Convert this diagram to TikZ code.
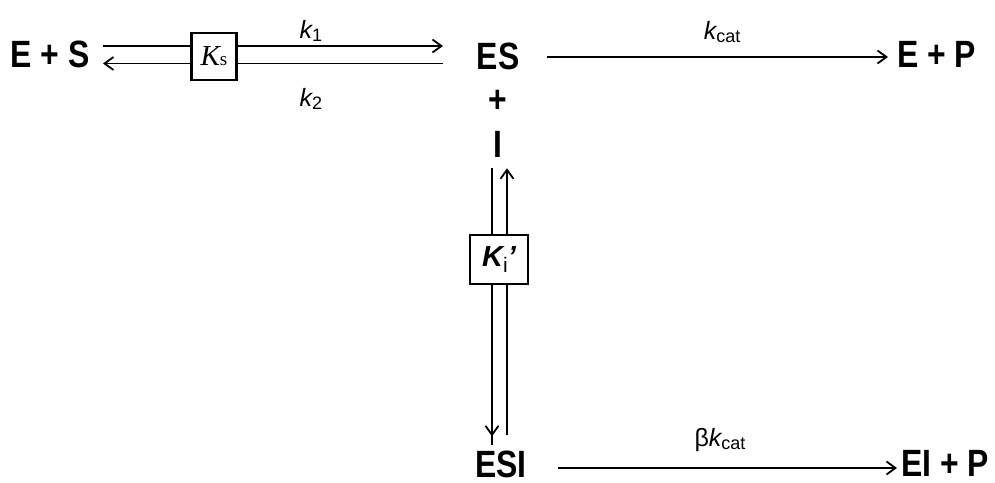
\documentclass[tikz,border=0pt]{standalone}
\usepackage{fontspec}
\setmainfont{Liberation Sans}
\newfontfamily\specfont{Liberation Sans}[FakeStretch=0.84]
\newfontfamily\constfont{Liberation Serif}
\usetikzlibrary{arrows.meta,calc}

% rate constant: italic k with an upright subscript
\newcommand{\rk}[1]{{\fontsize{25}{25}\selectfont\itshape k}{\fontsize{18}{18}\selectfont\raisebox{-3pt}{#1}}}

\tikzset{
  species/.style={inner sep=0pt, font=\specfont\bfseries\fontsize{38}{38}\selectfont},
  ratelabel/.style={inner sep=0pt},
  constbox/.style={draw, line width=2.4pt, fill=white, inner sep=0pt},
  rx/.style={line width=1.8pt, -{Straight Barb[length=9pt,width=13pt,line width=1.8pt]}},
  plain/.style={line width=1.8pt}
}

\begin{document}
\begin{tikzpicture}[x=1pt,y=-1pt]
  \useasboundingbox (0,0) rectangle (995,482);

  % species
  \node[species, anchor=east] (esl) at (90,54.5) {E + S};
  \node[species] (es) at (498,56) {ES};
  \node[species] (plus) at (498,101.5) {+};
  \node[species] (inum) at (498,144) {I};
  \node[species, anchor=west] (ep) at (897,54.5) {E + P};
  \node[species] (esi) at (501,464) {ESI};
  \node[species, anchor=west] (eip) at (901,463) {EI + P};

  % binding equilibrium E + S <-> ES
  \draw[rx] ($(esl.east)+(13,-8.5)$) -- ($(es.center)+(-55,-10)$);
  \draw[rx] ($(es.center)+(-55,7.5)$) -- ($(esl.east)+(13,9)$);
  \node[constbox, minimum width=45pt, minimum height=47pt] (ks) at (214,56.5)
    {\constfont{\fontsize{29}{29}\selectfont\itshape K}{\fontsize{19}{19}\selectfont s}};
  \node[ratelabel] (k1) at (311,31) {\rk{1}};
  \node[ratelabel] (k2) at (311,99) {\rk{2}};

  % catalytic step ES -> E + P
  \draw[rx] ($(es.center)+(49,1)$) -- ($(ep.west)+(-9,2.5)$);
  \node[ratelabel] (kcat) at (722,32) {\rk{cat}};

  % inhibitor binding ES + I <-> ESI
  \draw[plain] ($(inum.south)+(-6,11)$) -- ($(esi.north)+(-9,-5)$);
  \draw[rx] ($(inum.south)+(-6,20)$) -- ($(esi.north)+(-9,-14)$);
  \draw[rx] ($(esi.north)+(6,-15)$) -- ($(inum.south)+(9,11)$);
  \node[constbox, minimum width=58pt, minimum height=49pt] (ki) at (499,259.5)
    {{\fontsize{29}{29}\selectfont\bfseries\itshape K}\raisebox{-6pt}{\fontsize{21}{21}\selectfont i}{\fontsize{29}{29}\selectfont\bfseries\itshape ’}};

  % catalytic step ESI -> EI + P
  \draw[rx] ($(esi.center)+(57,4)$) -- ($(eip.west)+(-4,5)$);
  \node[ratelabel] (bkcat) at (720,440) {{\fontsize{25}{25}\selectfont β}\rk{cat}};
\end{tikzpicture}
\end{document}
